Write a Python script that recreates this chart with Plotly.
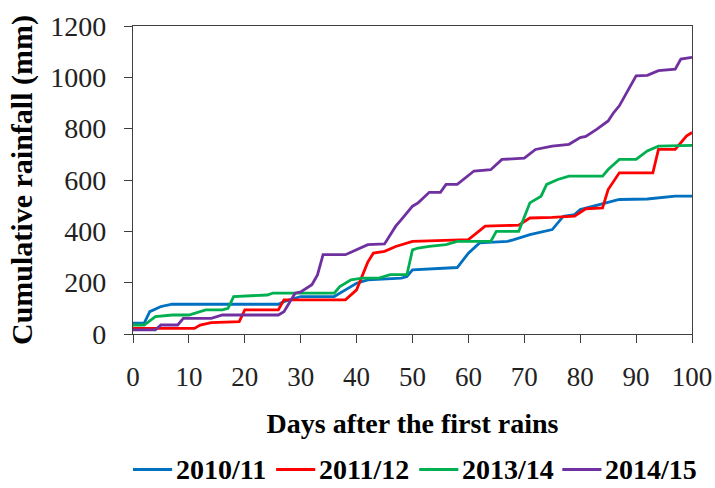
import plotly.graph_objects as go

# Cumulative rainfall (mm), at the days where the
# slope visibly changes.
blue_days = [0, 2, 3, 5, 6, 7, 26, 27, 30, 36, 38, 40, 42, 48, 49, 50, 58, 60, 62, 67,
             68, 71, 75, 77, 79, 80, 87, 92, 97, 100]
blue_mm = [42, 42, 87, 107, 112, 116, 116, 126, 146, 146, 172, 198, 211, 218, 224, 250, 259, 315, 355, 361,
           367, 387, 407, 459, 465, 485, 524, 526, 537, 537]

red_days = [0, 11, 12, 14, 19, 20, 26, 27, 38, 40, 42, 43, 45, 47, 50, 60, 63, 69, 71, 75,
            79, 81, 84, 85, 87, 93, 94, 97, 99, 100]
red_mm = [22, 22, 35, 44, 48, 94, 94, 133, 133, 172, 280, 315, 322, 341, 361, 368, 420, 424, 452, 454,
          459, 488, 491, 563, 628, 628, 719, 719, 771, 785]

green_days = [0, 2, 4, 7, 10, 13, 16, 17, 18, 24, 25, 36, 37, 39, 41, 44, 46, 49, 50, 51,
              53, 56, 58, 64, 65, 69, 71, 73, 74, 76, 78, 84, 85, 87, 90, 92, 94, 100]
green_mm = [35, 35, 68, 74, 74, 94, 94, 100, 146, 152, 159, 159, 185, 211, 218, 218, 231, 231, 328, 335,
            341, 348, 361, 361, 400, 400, 511, 537, 583, 602, 615, 615, 641, 680, 680, 713, 732, 735]

purple_days = [0, 4, 5, 8, 9, 14, 16, 26, 27, 29, 30, 32, 33, 34, 38, 40, 42, 45, 47, 48,
               50, 51, 53, 55, 56, 58, 61, 64, 66, 70, 72, 75, 78, 80, 81, 83, 85, 86, 87, 90,
               92, 94, 97, 98, 100]
purple_mm = [16, 16, 35, 35, 61, 61, 74, 74, 87, 159, 164, 192, 230, 309, 309, 328, 348, 351, 420, 446,
             498, 511, 552, 552, 583, 583, 635, 640, 680, 685, 719, 732, 739, 765, 770, 798, 830, 863, 889, 1006,
             1008, 1026, 1032, 1071, 1078]

seasons = ["2010/11", "2011/12", "2013/14", "2014/15"]
colors = ["#0070C0", "#FF0000", "#00B050", "#7030A0"]
series = [(blue_days, blue_mm), (red_days, red_mm), (green_days, green_mm), (purple_days, purple_mm)]

x_ticks = list(range(0, 101, 10))
y_ticks = list(range(0, 1201, 200))

SERIF = "Liberation Serif, Times New Roman, serif"
AXIS = "#404040"
LINE_W = 2.8

fig = go.Figure()
for name, color, (days, mm) in zip(seasons, colors, series):
    fig.add_trace(go.Scatter(x=days, y=mm, mode="lines", name=name,
                             line=dict(color=color, width=LINE_W)))

# Plotly's own legend pushes the bottom margin when it sits this low, so the
# key row is drawn in paper coordinates instead (one entry every 0.256 of
# the plot width, sample line then label).
KEY_Y = -0.44
KEY_X0, KEY_PITCH, KEY_LINE = 0.0, 0.256, 0.07
for i, (name, color) in enumerate(zip(seasons, colors)):
    x0 = KEY_X0 + i * KEY_PITCH
    fig.add_shape(type="line", xref="paper", yref="paper", x0=x0, x1=x0 + KEY_LINE,
                  y0=KEY_Y, y1=KEY_Y, line=dict(color=color, width=LINE_W))
    fig.add_annotation(xref="paper", yref="paper", x=x0 + KEY_LINE + 0.003, y=KEY_Y,
                       xanchor="left", yanchor="middle", showarrow=False,
                       text=f"<b>{name}</b>", font=dict(size=28, color="#000000"))

fig.update_layout(
    width=715, height=488,
    margin=dict(l=133, r=23, t=26, b=154),
    paper_bgcolor="white", plot_bgcolor="white",
    font=dict(family=SERIF, color="#000000"),
    showlegend=False,
)
fig.update_xaxes(
    range=[0, 100], tickvals=x_ticks, showgrid=False, zeroline=False, automargin=False,
    showline=True, linecolor=AXIS, linewidth=1.3, mirror=True,
    ticks="outside", ticklen=8, tickcolor=AXIS, ticklabelstandoff=10,
    tickfont=dict(size=27, color="#222222"),
    title=dict(text="<b>Days after the first rains</b>", font=dict(size=28), standoff=22),
)
fig.update_yaxes(
    range=[0, 1200], tickvals=y_ticks, showgrid=False, zeroline=False, automargin=False,
    showline=True, linecolor=AXIS, linewidth=1.3, mirror=True,
    ticks="outside", ticklen=8, tickcolor=AXIS, ticklabelstandoff=12,
    tickfont=dict(size=28, color="#222222"),
    title=dict(text="<b>Cumulative rainfall (mm)</b>", font=dict(size=30), standoff=8),
)

# the page's default 8px body margin would shift the whole figure
fig.write_html("out.html", config={"displayModeBar": False},
               post_script="document.body.style.margin='0';")
